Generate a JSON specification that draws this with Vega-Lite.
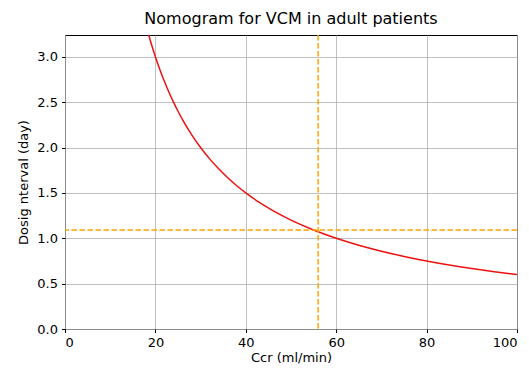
{
  "$schema": "https://vega.github.io/schema/vega-lite/v6.json",
  "width": 452,
  "height": 294,
  "autosize": {"type": "none"},
  "padding": {"left": 65, "top": 35, "right": 12, "bottom": 42},
  "background": "white",
  "title": {"text": "Nomogram for VCM in adult patients", "font": "DejaVu Sans", "fontSize": 16, "fontWeight": "normal", "color": "#000000", "offset": 7},
  "config": {
    "view": {"stroke": "#000000", "strokeWidth": 1},
    "axis": {
      "labelFont": "DejaVu Sans", "labelFontSize": 13, "labelColor": "#000000",
      "titleFont": "DejaVu Sans", "titleFontSize": 13, "titleFontWeight": "normal", "titleColor": "#000000",
      "gridColor": "#b0b0b0", "gridWidth": 0.8, "domain": false,
      "tickColor": "#000000", "tickSize": 3.5, "labelPadding": 4
    }
  },
  "datasets": {
    "curve": [
      {"ccr": 18.5, "interval": 3.243}, {"ccr": 19, "interval": 3.158}, {"ccr": 20, "interval": 3.0},
      {"ccr": 21, "interval": 2.857}, {"ccr": 22, "interval": 2.727}, {"ccr": 23, "interval": 2.609},
      {"ccr": 24, "interval": 2.5}, {"ccr": 25, "interval": 2.4}, {"ccr": 26, "interval": 2.308},
      {"ccr": 28, "interval": 2.143}, {"ccr": 30, "interval": 2.0}, {"ccr": 32, "interval": 1.875},
      {"ccr": 34, "interval": 1.765}, {"ccr": 36, "interval": 1.667}, {"ccr": 38, "interval": 1.579},
      {"ccr": 40, "interval": 1.5}, {"ccr": 43, "interval": 1.395}, {"ccr": 46, "interval": 1.304},
      {"ccr": 50, "interval": 1.2}, {"ccr": 55, "interval": 1.091}, {"ccr": 60, "interval": 1.0},
      {"ccr": 65, "interval": 0.923}, {"ccr": 70, "interval": 0.857}, {"ccr": 75, "interval": 0.8},
      {"ccr": 80, "interval": 0.75}, {"ccr": 85, "interval": 0.706}, {"ccr": 90, "interval": 0.667},
      {"ccr": 95, "interval": 0.632}, {"ccr": 100, "interval": 0.6}
    ],
    "marker": [{"ccr": 56, "interval": 1.09}]
  },
  "layer": [
    {
      "data": {"name": "curve"},
      "mark": {"type": "line", "color": "#ee1111", "strokeWidth": 1.5, "clip": true, "interpolate": "monotone"},
      "encoding": {
        "x": {"field": "ccr", "type": "quantitative", "title": "Ccr (ml/min)",
              "scale": {"domain": [0, 100], "nice": false, "zero": false},
              "axis": {"values": [0, 20, 40, 60, 80, 100], "titlePadding": 2}},
        "y": {"field": "interval", "type": "quantitative", "title": "Dosig nterval (day)",
              "scale": {"domain": [0, 3.24], "nice": false, "zero": false},
              "axis": {"values": [0, 0.5, 1, 1.5, 2, 2.5, 3], "format": ".1f", "titlePadding": 6}}
      }
    },
    {
      "data": {"name": "marker"},
      "mark": {"type": "rule", "color": "#ffa500", "strokeWidth": 1.5, "strokeDash": [5.5, 2.5]},
      "encoding": {"x": {"field": "ccr", "type": "quantitative"}}
    },
    {
      "data": {"name": "marker"},
      "mark": {"type": "rule", "color": "#ffa500", "strokeWidth": 1.5, "strokeDash": [5.5, 2.5]},
      "encoding": {"y": {"field": "interval", "type": "quantitative"}}
    }
  ]
}
